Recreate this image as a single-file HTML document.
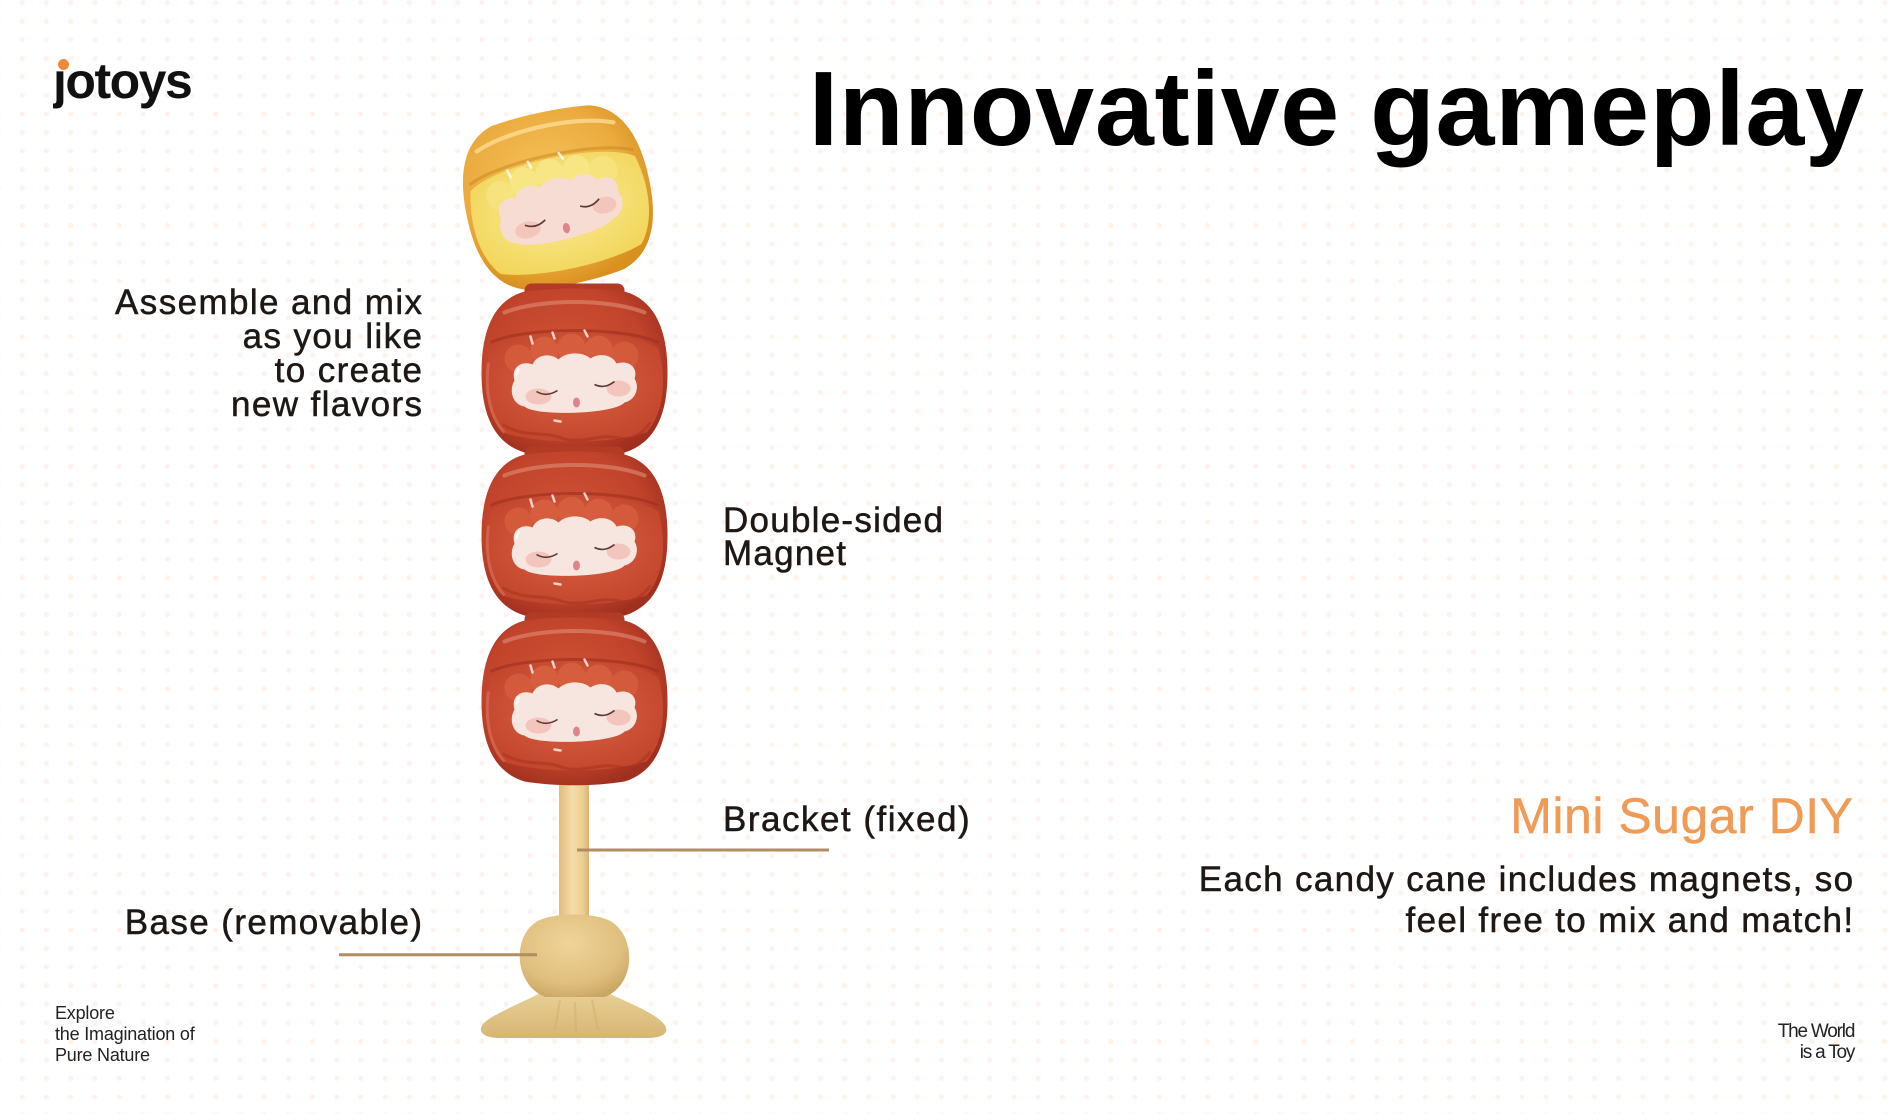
<!DOCTYPE html>
<html><head><meta charset="utf-8">
<style>
html,body{margin:0;padding:0}
body{width:1892px;height:1114px;overflow:hidden;position:relative;background-color:#fff;
background-image:radial-gradient(circle at center,#fdf2ec 0,#fdf2ec 2.2px,rgba(255,255,255,0) 2.8px);
background-size:24.2px 18.55px;background-position:10.2px -6.6px}
.t{position:absolute;white-space:nowrap;font-family:"Liberation Sans",Arial,sans-serif;color:#1e1815}
.m{-webkit-text-stroke:0.5px #1e1815}
</style></head>
<body>

<svg width="1892" height="1114" viewBox="0 0 1892 1114" style="position:absolute;left:0;top:0">
<defs>
 <radialGradient id="rbody" cx="0.45" cy="0.42" r="0.62">
  <stop offset="0" stop-color="#d05436"/>
  <stop offset="0.7" stop-color="#c1432b"/>
  <stop offset="1" stop-color="#9f2f1e"/>
 </radialGradient>
 <radialGradient id="rhair" cx="0.5" cy="0.45" r="0.6">
  <stop offset="0" stop-color="#da6242"/>
  <stop offset="1" stop-color="#c2452c"/>
 </radialGradient>
 <radialGradient id="ybody" cx="0.45" cy="0.4" r="0.62">
  <stop offset="0" stop-color="#f5c45c"/>
  <stop offset="0.7" stop-color="#ebab3e"/>
  <stop offset="1" stop-color="#d8901f"/>
 </radialGradient>
 <radialGradient id="yhair" cx="0.5" cy="0.45" r="0.6">
  <stop offset="0" stop-color="#faec96"/>
  <stop offset="1" stop-color="#f2d65c"/>
 </radialGradient>
 <linearGradient id="stick" x1="0" y1="0" x2="1" y2="0">
  <stop offset="0" stop-color="#e2bb7e"/>
  <stop offset="0.45" stop-color="#f7dca8"/>
  <stop offset="0.8" stop-color="#eccd92"/>
  <stop offset="1" stop-color="#d9b274"/>
 </linearGradient>
 <radialGradient id="knob" cx="0.45" cy="0.35" r="0.7">
  <stop offset="0" stop-color="#efd49a"/>
  <stop offset="0.7" stop-color="#dfbf7e"/>
  <stop offset="1" stop-color="#caa563"/>
 </radialGradient>
 <linearGradient id="foot" x1="0" y1="0" x2="0" y2="1">
  <stop offset="0" stop-color="#e9cf95"/>
  <stop offset="1" stop-color="#d6b674"/>
 </linearGradient>

 <g id="rb">
  <rect x="-50" y="-89" width="100" height="14" rx="7" fill="#b23b25"/>
  <path d="M-50,-81 C-20,-85 20,-85 50,-81 C82,-72 93,-40 93,0 C93,40 82,70 50,80 C20,85 -20,85 -50,80 C-82,70 -93,40 -93,0 C-93,-40 -82,-72 -50,-81Z" fill="url(#rbody)"/>
  <path d="M-70,-60 C-35,-74 35,-74 70,-60" stroke="#e3937b" stroke-width="4" fill="none" opacity=".55" stroke-linecap="round"/>
  <path d="M-84,-30 C-50,-46 50,-46 84,-30" stroke="#9c2f1f" stroke-width="3" fill="none" opacity=".6"/>
  <path d="M-84,-24 C-55,-44 55,-44 84,-24 C92,6 90,40 72,60 C35,72 -35,72 -72,60 C-90,40 -92,6 -84,-24Z" fill="url(#rhair)"/>
  <circle cx="-56" cy="-14" r="14" fill="#d45a3c"/>
  <circle cx="-30" cy="-22" r="14" fill="#d65e3f"/>
  <circle cx="-3" cy="-25" r="14" fill="#d65e3f"/>
  <circle cx="24" cy="-23" r="14" fill="#d65e3f"/>
  <circle cx="50" cy="-17" r="14" fill="#d45a3c"/>
  <path d="M-72,52 C-50,66 -30,58 -12,66 C8,72 28,60 46,66 C60,68 70,58 76,50" stroke="#a93522" stroke-width="3" fill="none" opacity=".6"/>
  <path d="M-60,8 C-64,-6 -52,-12 -42,-8 C-38,-18 -24,-20 -16,-13 C-8,-21 8,-21 16,-14 C24,-20 38,-18 42,-9 C54,-13 64,-5 60,6 C66,16 60,28 50,30 C40,42 -40,44 -50,34 C-62,32 -66,18 -60,8Z" fill="#f7e6df"/>
  <ellipse cx="-36" cy="24" rx="13" ry="8" fill="#f0aaa0" opacity=".55"/>
  <ellipse cx="44" cy="16" rx="12" ry="8" fill="#f0aaa0" opacity=".55"/>
  <path d="M-38,19 Q-28,25 -17,18" stroke="#5a3a36" stroke-width="1.6" fill="none"/>
  <path d="M20,12 Q30,17 40,9" stroke="#5a3a36" stroke-width="1.6" fill="none"/>
  <ellipse cx="2" cy="30" rx="3.5" ry="5" fill="#e2838c"/>
  <path d="M-44,-36 l2,7 M-22,-40 l2,6 M10,-42 l3,6 M-56,-4 l-2,6 M-20,48 l6,1" stroke="#fff" stroke-width="2.5" opacity=".75" stroke-linecap="round"/>
  <path d="M-86,-10 C-90,20 -84,45 -70,60" stroke="#e07a60" stroke-width="3" fill="none" opacity=".5"/>
 </g>
</defs>

<!-- yellow ball -->
<g transform="translate(558,198) rotate(-12) scale(1,1.04)">
  <path d="M-50,-81 C-20,-85 20,-85 50,-81 C82,-72 93,-40 93,0 C93,40 82,70 50,80 C20,85 -20,85 -50,80 C-82,70 -93,40 -93,0 C-93,-40 -82,-72 -50,-81Z" fill="url(#ybody)"/>
  <path d="M-70,-60 C-35,-74 35,-74 70,-60" stroke="#fde3a0" stroke-width="4" fill="none" opacity=".7" stroke-linecap="round"/>
  <path d="M-84,-30 C-50,-46 50,-46 84,-30" stroke="#c98420" stroke-width="3" fill="none" opacity=".5"/>
  <path d="M-84,-24 C-55,-44 55,-44 84,-24 C92,6 90,40 72,60 C35,72 -35,72 -72,60 C-90,40 -92,6 -84,-24Z" fill="url(#yhair)"/>
  <circle cx="-56" cy="-14" r="14" fill="#f7e37e"/>
  <circle cx="-30" cy="-22" r="14" fill="#f8e684"/>
  <circle cx="-3" cy="-25" r="14" fill="#f8e684"/>
  <circle cx="24" cy="-23" r="14" fill="#f8e684"/>
  <circle cx="50" cy="-17" r="14" fill="#f7e37e"/>
  <path d="M-60,8 C-64,-6 -52,-12 -42,-8 C-38,-18 -24,-20 -16,-13 C-8,-21 8,-21 16,-14 C24,-20 38,-18 42,-9 C54,-13 64,-5 60,6 C66,16 60,28 50,30 C40,42 -40,44 -50,34 C-62,32 -66,18 -60,8Z" fill="#f6dcd2"/>
  <ellipse cx="-36" cy="24" rx="13" ry="8" fill="#f2b2a8" opacity=".55"/>
  <ellipse cx="44" cy="16" rx="12" ry="8" fill="#f2b2a8" opacity=".55"/>
  <path d="M-38,19 Q-28,25 -17,18" stroke="#5a3a36" stroke-width="1.6" fill="none"/>
  <path d="M20,12 Q30,17 40,9" stroke="#5a3a36" stroke-width="1.6" fill="none"/>
  <ellipse cx="2" cy="30" rx="3.5" ry="5" fill="#e2838c"/>
  <path d="M-44,-36 l2,7 M-22,-40 l2,6 M10,-42 l3,6" stroke="#fff" stroke-width="2.5" opacity=".8" stroke-linecap="round"/>
</g>

<!-- stick -->
<rect x="559" y="770" width="30" height="160" fill="url(#stick)"/>

<!-- red balls -->
<use href="#rb" transform="translate(574.5,372.5)"/>
<use href="#rb" transform="translate(574.5,535.5)"/>
<use href="#rb" transform="translate(574.5,701.5)"/>

<!-- base -->
<path d="M540,993 C520,1004 492,1014 483,1024 C477,1032 484,1038 500,1038 L648,1038 C664,1038 670,1032 664,1024 C654,1012 626,1002 608,993 Z" fill="url(#foot)"/>
<path d="M560,1000 L555,1030 M575,1002 L576,1032 M592,1000 L598,1030" stroke="#cfae6c" stroke-width="2" opacity=".5" fill="none"/>
<path d="M536,922 C512,938 514,984 545,997 L605,997 C636,984 636,938 612,922 C596,912 552,912 536,922 Z" fill="url(#knob)"/>

<!-- connector lines -->
<line x1="577" y1="850" x2="829" y2="850" stroke="#b08c63" stroke-width="3"/>
<line x1="339" y1="954.8" x2="537" y2="954.8" stroke="#b08c63" stroke-width="3"/>
</svg>

<!-- logo -->
<div class="t" style="left:53px;top:52.7px;font-size:50px;line-height:56px;font-weight:bold;letter-spacing:-1.5px;color:#111"><span style="background:linear-gradient(to bottom,rgba(0,0,0,0) 0,rgba(0,0,0,0) 17.5px,#111 17.5px,#111 100%);-webkit-background-clip:text;background-clip:text;color:transparent">j</span>otoys</div>
<div style="position:absolute;left:58px;top:58.5px;width:11px;height:11px;border-radius:50%;background:#ee8b3a"></div>

<!-- title -->
<div class="t" style="right:27.3px;top:49.3px;font-size:106px;line-height:120px;font-weight:bold;letter-spacing:0.7px;color:#000">Innovative gameplay</div>

<!-- left labels -->
<div class="t m" style="right:1468.6px;top:286px;font-size:35px;line-height:34px;letter-spacing:1.4px;text-align:right">Assemble and mix<br>as you like<br>to create<br>new flavors</div>

<div class="t m" style="left:723px;top:504.4px;font-size:35px;line-height:33px;letter-spacing:1.25px">Double-sided<br>Magnet</div>

<div class="t m" style="left:723px;top:800px;font-size:35px;line-height:40px;letter-spacing:1.5px">Bracket (fixed)</div>

<div class="t m" style="right:1468.6px;top:903px;font-size:35px;line-height:40px;letter-spacing:1.4px;text-align:right">Base (removable)</div>

<!-- right block -->
<div class="t" style="right:38.5px;top:785.7px;font-size:50px;line-height:60px;letter-spacing:0.5px;color:#ef9a55;-webkit-text-stroke:0.4px #ef9a55">Mini Sugar DIY</div>

<div class="t m" style="right:37.6px;top:859.4px;font-size:35px;line-height:41px;letter-spacing:1.35px;text-align:right">Each candy cane includes magnets, so<br>feel free to mix and match!</div>

<!-- footers -->
<div class="t" style="left:55px;top:1003.3px;font-size:18px;line-height:21px;letter-spacing:-0.2px;color:#222">Explore<br>the Imagination of<br>Pure Nature</div>

<div class="t" style="right:37.8px;top:1020.9px;font-size:19px;line-height:21px;letter-spacing:-1.2px;color:#222;text-align:right">The World<br>is a Toy</div>

</body></html>
